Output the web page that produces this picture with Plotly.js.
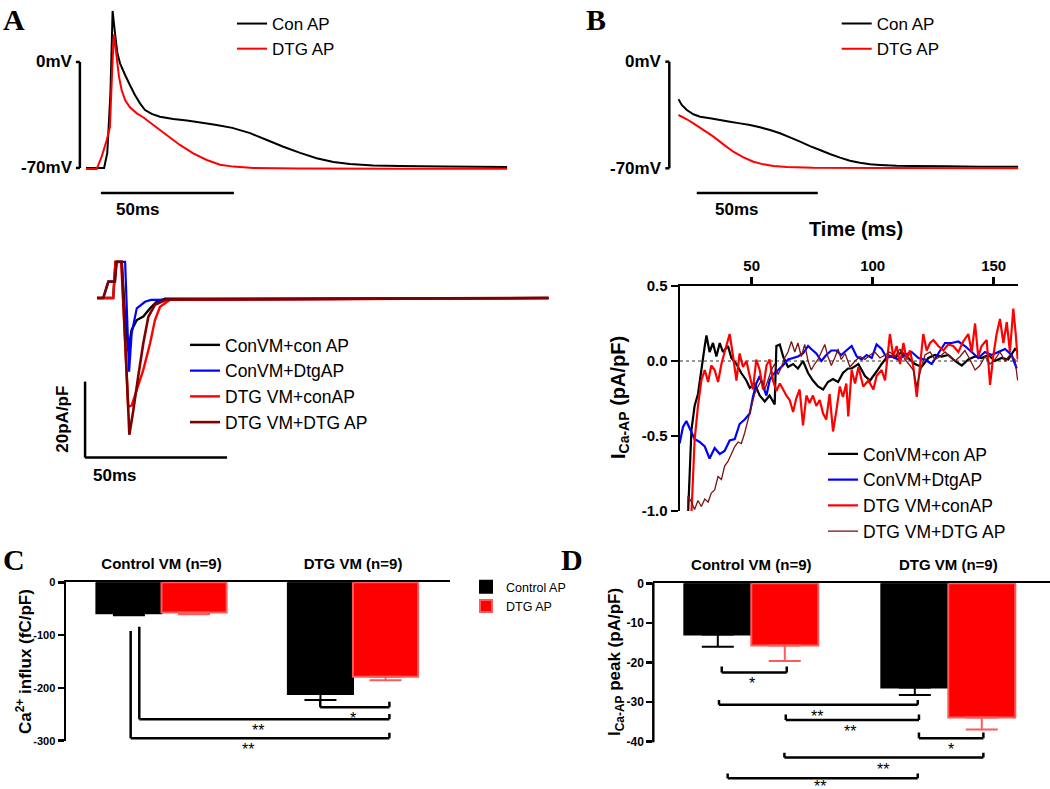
<!DOCTYPE html>
<html>
<head>
<meta charset="utf-8">
<script src="https://cdn.plot.ly/plotly-3.0.1.min.js"></script>
<style>
html,body{margin:0;padding:0;background:#ffffff;overflow:hidden;}
#fig{width:1050px;height:789px;}
</style>
</head>
<body>
<div id="fig"></div>
<script>
// ===================== DATA =====================
// Panel A, top: action potentials (time in ms, membrane potential in mV)
const apA_con_t  = [0, 6.8, 8.0, 9.2, 10.0, 10.9, 11.8, 12.8, 14.7, 16.5, 18.4, 20.3, 22.2, 24.7, 27.8, 32.8, 37.9, 43.0, 49.1, 55.0, 61.7, 68.0, 74.2, 80.5, 86.7, 93.0, 99.2, 108, 118, 135, 158.3];
const apA_con_mV = [-70, -70, -60, -20, 33.7, 19, 5.7, -0.9, -8.6, -15.2, -21.8, -27.3, -31.7, -34.3, -36.1, -37.6, -38.7, -40, -41.6, -43.5, -47, -51.5, -56, -60, -63.6, -66, -67.4, -68.3, -68.7, -69, -69.3];
const apA_dtg_t  = [0, 4.0, 5.9, 7.8, 9.0, 9.9, 10.5, 11.5, 12.4, 13.4, 14.7, 16.5, 19.1, 21.5, 25.3, 30.3, 35.3, 40.3, 45.4, 50.4, 55.4, 62.9, 80, 120, 158.3];
const apA_dtg_mV = [-70.7, -70.7, -62.5, -51.5, -43, -3, 18.3, 3.5, -9.7, -18.5, -25.1, -29.9, -33.9, -36.5, -41.6, -48.2, -54.8, -60.3, -64.7, -67.8, -69.1, -70, -70.3, -70.5, -70.5];

// Panel A, bottom: Ca current traces (time in ms, pA/pF)
const curA_conCon_t = [0, 5.7, 6.5, 8.7, 9.8, 11.0, 12.2, 14.0, 16.3, 18.7, 21.0, 24.0, 159];
const curA_conCon_I = [0, 0, 9.5, 9.5, -4, -14, -8.4, -5.8, -4.9, -2.7, -1.0, -0.2, 0];
const curA_conDtg_t = [0, 2.2, 4.0, 6.3, 6.9, 9.9, 11.3, 12.2, 14.0, 16.9, 19.0, 159];
const curA_conDtg_I = [0, 0, 4.3, 4.3, 9.5, 9.5, -19.4, -9.3, -2.7, -1.0, -0.5, 0];
const curA_dtgCon_t = [0, 5.7, 6.5, 8.5, 11.0, 12.2, 14.0, 16.3, 18.7, 20.4, 22.2, 25.6, 159];
const curA_dtgCon_I = [0, 0, 9.5, 9.5, -28.6, -28.3, -24.2, -18.9, -11.9, -5.8, -2.3, -0.5, 0];
const curA_dtgDtg_t = [0, 2.2, 4.0, 6.3, 6.9, 8.7, 11.4, 12.8, 14.5, 16.3, 18.1, 20.4, 24.5, 159];
const curA_dtgDtg_I = [0, 0, 4.3, 4.3, 9.5, 9.5, -36, -29.5, -20.7, -11.9, -4.9, -1.8, -0.4, 0];

// Panel B, top: action potentials (time in ms, mV)
const apB_con_t  = [19.75, 21.1, 23.2, 25.9, 28.7, 32.8, 36.9, 41.0, 45.2, 49.3, 53.4, 57.6, 61.7, 65.8, 70.0, 74.1, 78.2, 82.3, 86.5, 90.6, 94.7, 98.9, 103.0, 109.9, 116.8, 130.5, 144.3, 160.1];
const apB_con_mV = [-24.7, -28.4, -31.7, -34.5, -36.1, -37.2, -38.3, -39.4, -40.5, -41.6, -43.1, -44.8, -47.0, -49.7, -52.5, -55.4, -58.0, -60.6, -63.0, -65.0, -66.3, -67.4, -67.8, -68.3, -68.5, -68.7, -68.9, -68.9];
const apB_dtg_t  = [19.75, 23.2, 25.9, 30.0, 34.2, 38.3, 42.4, 46.6, 50.7, 54.8, 59.0, 64.5, 75.5, 103, 160.1];
const apB_dtg_mV = [-35.0, -37.8, -40.5, -44.8, -49.2, -54.3, -59.1, -62.8, -65.7, -67.4, -68.5, -69.1, -69.6, -69.8, -70.0];

// Panel B, bottom: I_Ca-AP (time in ms, pA/pF)
const curB_conCon_t = [20, 22.5, 23.7, 25.1, 26.4, 27.8, 29.2, 30.6, 31.3, 32.6, 34.0, 35.4, 36.8, 38.1, 40.2, 41.6, 43.7, 45.7, 47.8, 49.2, 51.2, 53.3, 55.4, 57.4, 59.5, 60.2, 61.6, 63.0, 65.0, 67.1, 69.1, 71.2, 73.3, 75.3, 77.4, 79.5, 81.5, 83.6, 85.7, 87.7, 89.8, 91.3, 94.1, 96.8, 98.9, 101.6, 103.7, 106.5, 109.2, 111.9, 114.7, 117.5, 120.2, 123.0, 125.7, 128.5, 131.2, 134.0, 136.8, 139.5, 142.3, 145.0, 147.8, 150.5, 153.3, 156.0, 158.8, 160.1];
const curB_conCon_I = [-4, -2, -1.02, -0.46, -0.30, -0.22, -0.06, 0.10, 0.17, 0.06, 0.12, 0.03, 0.12, 0.06, 0.10, 0.02, -0.02, -0.08, -0.13, -0.18, -0.15, -0.23, -0.27, -0.23, -0.29, 0.10, 0.11, 0.03, -0.04, -0.02, -0.05, 0.00, -0.08, -0.13, -0.17, -0.19, -0.14, -0.12, -0.14, -0.08, -0.05, -0.05, -0.02, -0.10, -0.13, -0.07, -0.02, 0.04, 0.02, 0.06, 0.02, -0.02, -0.04, 0.02, 0.04, 0.03, 0.04, 0.00, -0.03, 0.01, 0.03, 0.02, 0.04, 0.00, 0.02, 0.01, 0.08, 0.06];
const curB_conDtg_t = [20.2, 21.6, 23.0, 24.4, 26.4, 28.5, 30.6, 32.6, 34.7, 36.8, 38.8, 40.9, 43.0, 45.0, 47.1, 49.2, 50.5, 51.9, 53.3, 54.7, 56.1, 57.4, 58.8, 60.9, 62.9, 65.0, 67.1, 69.1, 71.2, 73.3, 74.6, 76.7, 78.8, 80.8, 82.9, 84.9, 87.0, 89.1, 91.3, 93.4, 95.4, 97.5, 99.6, 101.6, 103.7, 105.8, 107.8, 110.6, 113.3, 116.1, 118.9, 121.6, 124.4, 127.1, 129.9, 132.6, 135.4, 138.1, 140.9, 143.6, 146.4, 149.2, 151.9, 154.7, 157.4, 159.5];
const curB_conDtg_I = [-0.55, -0.44, -0.40, -0.45, -0.52, -0.54, -0.57, -0.65, -0.58, -0.62, -0.60, -0.53, -0.52, -0.42, -0.39, -0.35, -0.24, -0.15, -0.10, -0.17, -0.23, -0.13, -0.09, -0.06, -0.03, 0.01, 0.02, 0.03, 0.05, 0.10, 0.08, 0.05, 0.00, 0.04, 0.07, 0.07, 0.04, 0.07, 0.10, 0.03, 0.01, 0.04, 0.02, 0.11, 0.08, 0.02, 0.03, 0.01, 0.04, 0.06, 0.02, 0.01, -0.02, 0.05, 0.12, 0.12, 0.13, 0.10, 0.06, 0.02, 0.06, 0.04, 0.06, 0.08, 0.04, -0.05];
const curB_dtgCon_t = [24.0, 25.1, 26.4, 27.8, 29.2, 30.6, 32.0, 33.3, 34.7, 36.1, 37.5, 38.8, 40.2, 40.9, 42.3, 43.7, 45.0, 46.4, 47.8, 49.2, 50.5, 51.9, 53.3, 54.7, 56.1, 57.4, 58.8, 60.2, 61.6, 63.0, 64.3, 65.7, 67.1, 68.4, 69.8, 71.2, 72.6, 73.9, 75.3, 76.7, 78.1, 79.5, 80.8, 82.2, 83.6, 85.0, 86.4, 87.7, 89.1, 89.9, 91.3, 92.7, 94.1, 96.1, 98.2, 100.3, 101.6, 103.7, 105.1, 107.1, 108.5, 109.9, 111.3, 112.7, 114.0, 115.4, 116.8, 118.2, 119.5, 120.9, 122.3, 123.7, 125.1, 127.1, 129.2, 131.2, 133.3, 135.4, 137.4, 139.5, 140.9, 142.3, 143.6, 145.0, 147.1, 148.5, 149.8, 151.2, 152.6, 154.0, 155.4, 156.7, 158.1, 159.1, 159.9];
const curB_dtgCon_I = [-2.0, -1.02, -0.53, -0.30, -0.13, -0.06, -0.14, -0.03, -0.06, -0.14, -0.02, 0.06, 0.14, 0.18, 0.03, -0.13, 0.05, -0.04, 0.00, -0.10, -0.19, 0.01, -0.06, -0.19, -0.03, 0.01, -0.13, -0.20, -0.15, -0.19, -0.23, -0.26, -0.34, -0.25, -0.19, -0.43, -0.23, -0.28, -0.23, -0.30, -0.26, -0.35, -0.39, -0.22, -0.47, -0.33, -0.17, -0.24, -0.15, -0.37, -0.06, -0.15, -0.04, -0.17, -0.13, -0.19, -0.10, -0.06, -0.13, 0.18, 0.03, 0.10, -0.02, 0.12, 0.01, 0.07, -0.04, -0.24, -0.04, 0.18, 0.07, 0.12, 0.14, 0.10, 0.07, 0.11, 0.10, 0.06, 0.13, 0.18, 0.06, 0.25, 0.03, 0.10, 0.14, -0.16, 0.03, 0.18, 0.28, 0.12, 0.26, 0.06, 0.35, 0.18, 0.01];
const curB_dtgDtg_t = [22.5, 23.7, 25.1, 26.4, 27.8, 29.2, 30.6, 32.0, 33.3, 34.7, 36.1, 37.5, 38.8, 40.2, 41.6, 43.0, 44.4, 45.7, 47.1, 48.5, 49.9, 51.2, 52.6, 54.0, 55.4, 56.7, 58.1, 59.5, 60.9, 62.3, 63.6, 65.0, 66.4, 67.8, 69.1, 70.5, 71.9, 73.3, 74.6, 76.0, 77.4, 78.8, 80.2, 81.5, 82.9, 84.3, 85.7, 87.0, 88.6, 90.6, 92.7, 94.8, 96.8, 98.9, 100.9, 103.0, 105.1, 107.1, 109.2, 111.3, 113.3, 115.4, 116.8, 118.2, 119.5, 121.6, 123.7, 125.7, 127.8, 129.9, 131.9, 134.0, 136.1, 138.1, 140.2, 142.3, 144.3, 146.4, 148.5, 150.5, 152.6, 154.7, 156.7, 158.8, 159.9];
const curB_dtgDtg_I = [-1.5, -0.90, -0.94, -0.99, -0.93, -0.97, -0.92, -0.94, -0.88, -0.86, -0.77, -0.79, -0.70, -0.67, -0.62, -0.57, -0.54, -0.55, -0.48, -0.39, -0.30, -0.22, -0.17, -0.13, -0.19, -0.13, -0.06, -0.02, -0.09, -0.04, 0.02, 0.06, 0.13, 0.06, 0.12, 0.03, 0.11, 0.00, -0.06, -0.02, 0.01, 0.06, 0.11, 0.03, -0.03, 0.02, 0.08, 0.01, 0.05, -0.04, 0.00, 0.03, 0.01, 0.04, 0.06, 0.02, 0.04, 0.06, 0.03, 0.08, 0.01, -0.03, -0.06, -0.17, -0.08, 0.04, 0.06, 0.01, 0.03, 0.06, 0.03, 0.00, 0.03, 0.07, 0.01, -0.06, -0.03, 0.03, -0.02, 0.01, 0.06, 0.00, 0.04, 0.01, -0.13];

// Panels C and D: group means and SEM
const barCategories = ['Control VM (n=9)', 'DTG VM (n=9)'];
const influx_conAP     = [-58.7, -211.6];
const influx_conAP_sem = [3.8, 11.4];
const influx_dtgAP     = [-57.0, -178.8];
const influx_dtgAP_sem = [3.6, 6.9];
const peak_conAP       = [-12.9, -26.3];
const peak_conAP_sem   = [3.1, 1.9];
const peak_dtgAP       = [-15.7, -33.9];
const peak_dtgAP_sem   = [3.9, 3.0];

// Names and tick labels
const apNames      = ['Con AP', 'DTG AP'];
const currentNames = ['ConVM+con AP', 'ConVM+DtgAP', 'DTG VM+conAP', 'DTG VM+DTG AP'];
const barNames     = ['Control AP', 'DTG AP'];
const bTimeTicks = [50, 100, 150];
const bTickVals  = [0.5, 0, -0.5, -1];
const bTickText  = ['0.5', '0.0', '-0.5', '-1.0'];
const cTickVals  = [0, -100, -200, -300];
const cTickText  = ['0', '-100', '-200', '-300'];
const dTickVals  = [0, -10, -20, -30, -40];
const dTickText  = ['0', '-10', '-20', '-30', '-40'];

// ===================== LAYOUT HELPERS =====================
const W = 1050, H = 789;
const F = 'Liberation Sans, Arial, Helvetica, sans-serif';
const FS = 'Liberation Serif, Times New Roman, serif';
const BLACK = '#000000', BLUE = '#0000ff', RED = '#ff0000', BROWN = '#800000', BROWN2 = '#7a1414';

// x axis geometry: pixel px0 maps to value 0, pxPerUnit scale, domain pixels d0..d1
function xg(px0, pxPerUnit, d0, d1) {
  return {domain: [d0 / W, d1 / W], range: [(d0 - px0) / pxPerUnit, (d1 - px0) / pxPerUnit]};
}
// y axis geometry: pixel row py0 maps to value 0, domain rows top..bot
function yg(py0, pxPerUnit, top, bot) {
  return {domain: [1 - bot / H, 1 - top / H], range: [-(bot - py0) / pxPerUnit, (py0 - top) / pxPerUnit]};
}
const hidden = {visible: false, showgrid: false, zeroline: false, fixedrange: true};

function lineTrace(x, y, name, color, width, xa, ya, leg) {
  return {type: 'scatter', mode: 'lines', x: x, y: y, name: name,
          line: {color: color, width: width, simplify: false},
          xaxis: xa, yaxis: ya, legend: leg, hoverinfo: 'skip'};
}
function barTrace(y, sem, name, color, edge, xa, ya, showLeg) {
  return {type: 'bar', x: [0, 1], y: y, name: name, xaxis: xa, yaxis: ya,
          legend: 'legend5', showlegend: showLeg, hoverinfo: 'skip',
          marker: {color: color, line: {color: edge, width: 2}},
          error_y: {type: 'data', symmetric: false, array: [0, 0], arrayminus: sem,
                    color: edge, thickness: 2, width: 16}};
}

const traces = [
  // A top
  lineTrace(apA_con_t, apA_con_mV, apNames[0], BLACK, 2, 'x', 'y', 'legend'),
  lineTrace(apA_dtg_t, apA_dtg_mV, apNames[1], RED, 2, 'x', 'y', 'legend'),
  // A bottom
  lineTrace(curA_conCon_t, curA_conCon_I, currentNames[0], BLACK, 2.4, 'x2', 'y2', 'legend2'),
  lineTrace(curA_conDtg_t, curA_conDtg_I, currentNames[1], BLUE, 2.2, 'x2', 'y2', 'legend2'),
  lineTrace(curA_dtgCon_t, curA_dtgCon_I, currentNames[2], RED, 2.4, 'x2', 'y2', 'legend2'),
  lineTrace(curA_dtgDtg_t, curA_dtgDtg_I, currentNames[3], BROWN, 2.6, 'x2', 'y2', 'legend2'),
  // B top
  lineTrace(apB_con_t, apB_con_mV, apNames[0], BLACK, 2, 'x3', 'y3', 'legend3'),
  lineTrace(apB_dtg_t, apB_dtg_mV, apNames[1], RED, 2, 'x3', 'y3', 'legend3'),
  // B bottom
  lineTrace(curB_conCon_t, curB_conCon_I, currentNames[0], BLACK, 2.2, 'x4', 'y4', 'legend4'),
  lineTrace(curB_conDtg_t, curB_conDtg_I, currentNames[1], BLUE, 2.2, 'x4', 'y4', 'legend4'),
  lineTrace(curB_dtgCon_t, curB_dtgCon_I, currentNames[2], RED, 2.2, 'x4', 'y4', 'legend4'),
  lineTrace(curB_dtgDtg_t, curB_dtgDtg_I, currentNames[3], BROWN2, 1.3, 'x4', 'y4', 'legend4'),
  // C
  barTrace(influx_conAP, influx_conAP_sem, barNames[0], BLACK, BLACK, 'x5', 'y5', true),
  barTrace(influx_dtgAP, influx_dtgAP_sem, barNames[1], RED, '#ff5a5a', 'x5', 'y5', true),
  // D
  barTrace(peak_conAP, peak_conAP_sem, barNames[0], BLACK, BLACK, 'x6', 'y6', false),
  barTrace(peak_dtgAP, peak_dtgAP_sem, barNames[1], RED, '#ff5a5a', 'x6', 'y6', false)
];

// Axis geometries (pixel calibration)
const gAx = xg(86, 2.66, 72, 512),      gAy = yg(62, 1.514, 4, 200);
const gA2x = xg(97, 2.84, 76, 552),     gA2y = yg(298, 3.8, 250, 466);
const gBx = xg(630.7, 2.42, 660, 1022), gBy = yg(61.7, 1.523, 4, 200);
const gB2x = xg(630.7, 2.42, 680, 1018.3), gB2y = yg(361, 150, 286, 511);
const gCx = xg(161.5, 191.5, 66, 450),  gCy = yg(582.3, 158.4 / 300, 582.3, 740.7);
const gDx = xg(751.3, 197, 653.3, 1050), gDy = yg(583.3, 3.96, 583.3, 785.3);

const tickFontB = {family: F, size: 15, color: '#000', weight: 'bold'};
const tickFontC = {family: F, size: 11, color: '#000', weight: 'bold'};
const tickFontD = {family: F, size: 12, color: '#000', weight: 'bold'};
const catFont = {family: F, size: 15, color: '#000', weight: 'bold'};

function legendAt(xpx, ypx, size) {
  return {x: xpx / W, y: 1 - ypx / H, xanchor: 'left', yanchor: 'top', bgcolor: 'rgba(0,0,0,0)',
          borderwidth: 0, font: {family: F, size: size, color: '#000'}, tracegroupgap: 0,
          orientation: 'v', traceorder: 'normal'};
}

// ---------- shapes ----------
const shapes = [];
function seg(xr, yr, x0, y0, x1, y1, w, extra) {
  shapes.push(Object.assign({type: 'line', xref: xr, yref: yr, x0: x0, y0: y0, x1: x1, y1: y1,
                line: {color: '#000', width: w || 2.5}}, extra || {}));
}
// scale bars A top (70 mV, 50 ms)
seg('x', 'y', -2.3, 0, -2.3, -70);
seg('x', 'y', -3.8, 0, -2.3, 0);
seg('x', 'y', -3.8, -70, -2.3, -70);
seg('x', 'y', 5.6, -86.5, 55.6, -86.5);
// scale bars A bottom (20 pA/pF, 50 ms)
seg('x2', 'y2', -4.2, -22, -4.2, -42);
seg('x2', 'y2', -4.2, -42, 45.8, -42);
// scale bars B top (70 mV, 50 ms)
seg('x3', 'y3', 15.95, 0, 15.95, -70);
seg('x3', 'y3', 14.3, 0, 15.95, 0);
seg('x3', 'y3', 14.3, -70, 15.95, -70);
seg('x3', 'y3', 27.3, -86.2, 77.3, -86.2);
// dotted zero line in B bottom
seg('x4', 'y4', gB2x.range[0], 0, gB2x.range[1], 0, 1.2, {layer: 'below', line: {color: '#333', width: 1.2, dash: 'dot'}});
// D: y axis line only from 0 to -40
shapes.push({type: 'line', xref: 'paper', yref: 'paper', x0: 653.3 / W, x1: 653.3 / W,
             y0: 1 - 582.3 / H, y1: 1 - 742.3 / H, line: {color: '#000', width: 2.5}});

// significance brackets [xLeft, yLeftTop, xRight, yRightTop, yBar, label, xLabel, labelShift]
const bracketsC = [
  [0.829, -223, 1.19, -226, -236.7, '*', 0.998, -1],
  [-0.116, -84, 1.19, -249.4, -259.5, '**', 0.502, -1],
  [-0.161, -92, 1.19, -284.8, -295.5, '**', 0.453, -1]
];
const bracketsD = [
  [-0.150, -21.0, 0.180, -21.0, -22.5, '*', 0.005, -1],
  [-0.164, -29.5, 0.845, -29.5, -30.7, '**', 0.332, -1],
  [0.175, -33.1, 0.851, -33.1, -34.5, '**', 0.501, -1],
  [0.851, -37.7, 1.178, -37.7, -39.1, '*', 1.012, -1],
  [0.168, -42.8, 1.178, -42.8, -44.0, '**', 0.670, -1],
  [-0.120, -48.0, 0.845, -48.0, -49.2, '**', 0.349, 2]
];
const annotations = [];
function addBrackets(list, xr, yr) {
  list.forEach(b => {
    seg(xr, yr, b[0], b[1], b[0], b[4], 2.5);
    seg(xr, yr, b[0], b[4], b[2], b[4], 2.5);
    seg(xr, yr, b[2], b[3], b[2], b[4], 2.5);
    annotations.push({xref: xr, yref: yr, x: b[6], y: b[4], text: b[5], showarrow: false,
                      xanchor: 'center', yanchor: 'top', yshift: b[7],
                      font: {family: F, size: 16, color: '#000'}});
  });
}
addBrackets(bracketsC, 'x5', 'y5');
addBrackets(bracketsD, 'x6', 'y6');

// ---------- text annotations ----------
function txt(o) {
  annotations.push(Object.assign({showarrow: false, font: {family: F, size: 17, color: '#000'}}, o));
}
// panel letters
[['A', 1, 1], ['B', 584, 1], ['C', 1, 541], ['D', 559, 541]].forEach(p => {
  txt({xref: 'paper', yref: 'paper', x: p[1] / W, y: 1 - p[2] / H, xanchor: 'left', yanchor: 'top',
       text: '<b>' + p[0] + '</b>', font: {family: FS, size: 30, color: '#000'}});
});
// A top scale labels
txt({xref: 'x', yref: 'y', x: -3.8, y: 0, text: '<b>0mV</b>', xanchor: 'right', yanchor: 'middle', xshift: -1});
txt({xref: 'x', yref: 'y', x: -3.8, y: -70, text: '<b>-70mV</b>', xanchor: 'right', yanchor: 'middle', xshift: -1});
txt({xref: 'x', yref: 'y', x: 19.5, y: -86.5, text: '<b>50ms</b>', xanchor: 'center', yanchor: 'top', yshift: -5});
// A bottom scale labels
txt({xref: 'x2', yref: 'y2', x: -4.2, y: -32, text: '<b>20pA/pF</b>', textangle: -90, xanchor: 'center', yanchor: 'middle', xshift: -22});
txt({xref: 'x2', yref: 'y2', x: 6.3, y: -42, text: '<b>50ms</b>', xanchor: 'center', yanchor: 'top', yshift: -6});
// B top scale labels
txt({xref: 'x3', yref: 'y3', x: 14.3, y: 0, text: '<b>0mV</b>', xanchor: 'right', yanchor: 'middle', xshift: -1});
txt({xref: 'x3', yref: 'y3', x: 14.3, y: -70, text: '<b>-70mV</b>', xanchor: 'right', yanchor: 'middle', xshift: -1});
txt({xref: 'x3', yref: 'y3', x: 43.8, y: -86.2, text: '<b>50ms</b>', xanchor: 'center', yanchor: 'top', yshift: -5});
// axis titles
txt({xref: 'paper', yref: 'paper', x: 856 / W, y: 1 - 229 / H, text: '<b>Time (ms)</b>', xanchor: 'center', yanchor: 'middle', font: {family: F, size: 20, color: '#000'}});
txt({xref: 'paper', yref: 'paper', x: 620 / W, y: 1 - 398 / H, text: '<b>I<sub>Ca-AP</sub> (pA/pF)</b>', textangle: -90, xanchor: 'center', yanchor: 'middle', font: {family: F, size: 20, color: '#000'}});
txt({xref: 'paper', yref: 'paper', x: 24 / W, y: 1 - 662 / H, text: '<b>Ca<sup>2+</sup> influx (fC/pF)</b>', textangle: -90, xanchor: 'center', yanchor: 'middle', font: {family: F, size: 17, color: '#000'}});
txt({xref: 'paper', yref: 'paper', x: 616 / W, y: 1 - 662 / H, text: '<b>I<sub>Ca-AP</sub> peak (pA/pF)</b>', textangle: -90, xanchor: 'center', yanchor: 'middle', font: {family: F, size: 17, color: '#000'}});

const layout = {
  width: W, height: H, margin: {l: 0, r: 0, t: 0, b: 0, pad: 0},
  paper_bgcolor: '#ffffff', plot_bgcolor: 'rgba(0,0,0,0)',
  font: {family: F, color: '#000'},
  barmode: 'group', bargap: 0.32, bargroupgap: 0,
  xaxis:  Object.assign({}, hidden, gAx, {anchor: 'y'}),
  yaxis:  Object.assign({}, hidden, gAy, {anchor: 'x'}),
  xaxis2: Object.assign({}, hidden, gA2x, {anchor: 'y2'}),
  yaxis2: Object.assign({}, hidden, gA2y, {anchor: 'x2'}),
  xaxis3: Object.assign({}, hidden, gBx, {anchor: 'y3'}),
  yaxis3: Object.assign({}, hidden, gBy, {anchor: 'x3'}),
  xaxis4: Object.assign({}, gB2x, {anchor: 'y4', side: 'top', showline: true, linewidth: 2.5, linecolor: '#000',
           ticks: 'outside', ticklen: 7, tickwidth: 2.5, tickcolor: '#000', tickmode: 'array', tickvals: bTimeTicks,
           tickfont: tickFontB, showgrid: false, zeroline: false, fixedrange: true}),
  yaxis4: Object.assign({}, gB2y, {anchor: 'x4', showline: true, linewidth: 2.5, linecolor: '#000',
           ticks: 'outside', ticklen: 7, tickwidth: 2.5, tickcolor: '#000', tickmode: 'array', tickvals: bTickVals,
           ticktext: bTickText, tickfont: tickFontB, showgrid: false, zeroline: false, fixedrange: true}),
  xaxis5: Object.assign({}, gCx, {anchor: 'y5', side: 'top', showline: true, linewidth: 2.5, linecolor: '#000',
           ticks: 'outside', ticklen: 5, tickcolor: 'rgba(0,0,0,0)', tickmode: 'array', tickvals: [0, 1],
           ticktext: barCategories, tickfont: catFont, showgrid: false, zeroline: false, fixedrange: true}),
  yaxis5: Object.assign({}, gCy, {anchor: 'x5', showline: true, linewidth: 2.5, linecolor: '#000',
           ticks: 'outside', ticklen: 6, tickwidth: 2.5, tickcolor: '#000', tickmode: 'array', tickvals: cTickVals,
           ticktext: cTickText, tickfont: tickFontC, showgrid: false, zeroline: false, fixedrange: true}),
  xaxis6: Object.assign({}, gDx, {anchor: 'y6', side: 'top', showline: true, linewidth: 2.5, linecolor: '#000',
           ticks: 'outside', ticklen: 5, tickcolor: 'rgba(0,0,0,0)', tickmode: 'array', tickvals: [0, 1],
           ticktext: barCategories, tickfont: catFont, showgrid: false, zeroline: false, fixedrange: true}),
  yaxis6: Object.assign({}, gDy, {anchor: 'x6', showline: false,
           ticks: 'outside', ticklen: 6, tickwidth: 2.5, tickcolor: '#000', tickmode: 'array', tickvals: dTickVals,
           ticktext: dTickText, tickfont: tickFontD, showgrid: false, zeroline: false, fixedrange: true}),
  legend:  legendAt(232, 6, 17),
  legend2: legendAt(185, 327, 17.5),
  legend3: legendAt(836.7, 6, 17),
  legend4: legendAt(823, 436, 17.5),
  legend5: legendAt(466, 572, 12.5),
  shapes: shapes,
  annotations: annotations
};

Plotly.newPlot('fig', traces, layout, {displayModeBar: false, staticPlot: true, responsive: false});
</script>
</body>
</html>
